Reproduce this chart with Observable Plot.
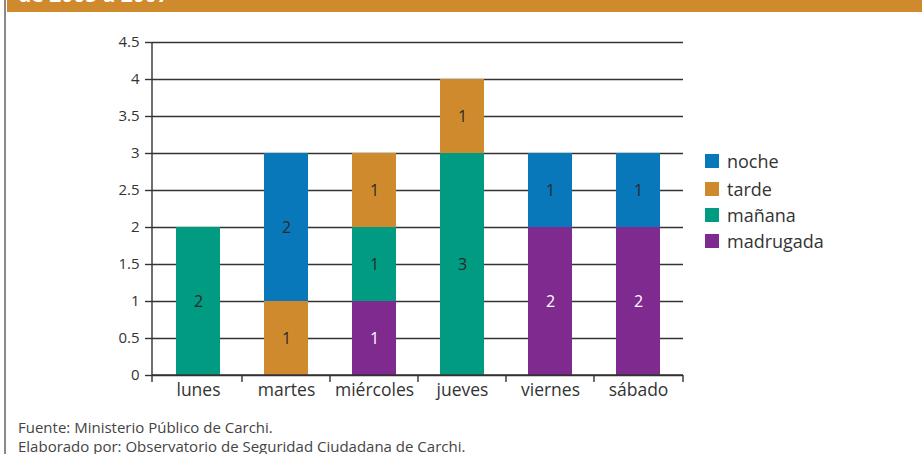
<!DOCTYPE html>
<html>
<head>
<meta charset="utf-8">
<script src="https://cdn.jsdelivr.net/npm/d3@7"></script>
<script src="https://cdn.jsdelivr.net/npm/@observablehq/plot@0.6"></script>
<style>
  html, body { margin: 0; padding: 0; background: #fff; }
  body { width: 922px; height: 454px; overflow: hidden; position: relative; font-family: "Open Sans", "Noto Sans", sans-serif; }
  #border { position: absolute; left: 4px; top: 0; width: 2px; height: 454px; background: #8a8a8a; }
  #band { position: absolute; left: 7px; top: 0; width: 915px; height: 12px; background: #d08a2e; overflow: hidden; }
  #band span { position: absolute; left: 11px; top: -20px; color: #fff; font-weight: bold; font-size: 21px; white-space: nowrap; }
  #chart { position: absolute; left: 0; top: 0; }
  #legend { position: absolute; left: 705px; top: 150px; font-size: 18px; color: #333; }
  #legend .row { position: absolute; left: 0; white-space: nowrap; height: 22px; line-height: 22px; }
  #legend .sw { position: absolute; left: 0; top: 4px; width: 14px; height: 14px; }
  #legend .lb { position: absolute; left: 22px; top: 0; }
  #footer { position: absolute; left: 18px; top: 418px; font-size: 15px; color: #444; line-height: 19px; }
  #footer div { height: 19px; overflow: visible; white-space: nowrap; }
</style>
</head>
<body>
<div id="border"></div>
<div id="band"><span id="title"></span></div>
<div id="chart"></div>
<div id="legend"></div>
<div id="footer"></div>
<script>
// ---- data ----
const title = "de 2005 a 2007";
const days = ["lunes", "martes", "miércoles", "jueves", "viernes", "sábado"];
const periods = ["madrugada", "mañana", "tarde", "noche"]; // bottom -> top
const madrugada = [0, 0, 1, 0, 2, 2];
const manana    = [2, 0, 1, 3, 0, 0];
const tarde     = [0, 1, 1, 1, 0, 0];
const noche     = [0, 2, 0, 0, 1, 1];
const periodColors = ["#7e2a8f", "#009b81", "#d08a2e", "#0878ba"];
const legendOrder = ["noche", "tarde", "mañana", "madrugada"];
const legendTops = [0, 28, 54, 80];
const yTicks = [0, 0.5, 1, 1.5, 2, 2.5, 3, 3.5, 4, 4.5];
const footerLines = [
  "Fuente: Ministerio Público de Carchi.",
  "Elaborado por: Observatorio de Seguridad Ciudadana de Carchi."
];

const series = {madrugada, "mañana": manana, tarde, noche};
const rows = [];
days.forEach((d, i) => periods.forEach(p => {
  const v = series[p][i];
  if (v > 0) rows.push({day: d, period: p, value: v});
}));

document.getElementById("title").textContent = title;

// boundary ticks + axis lines using the plot's scales
function frameLines(index, scales, values, dims) {
  const sx = scales.x, sy = scales.y;
  const g = d3.create("svg:g").attr("stroke", "#333").attr("stroke-width", 1.4);
  const left = dims.marginLeft, right = dims.width - dims.marginRight;
  const base = sy(0), top = sy(4.5);
  g.append("line").attr("x1", left).attr("x2", left).attr("y1", top).attr("y2", base + 7);
  g.append("line").attr("x1", left).attr("x2", right).attr("y1", base).attr("y2", base);
  const bw = sx.bandwidth ? sx.bandwidth() : 0;
  const centers = days.map(d => sx(d) + bw / 2);
  const bounds = [];
  for (let i = 0; i < centers.length - 1; i++) bounds.push((centers[i] + centers[i + 1]) / 2);
  bounds.push(right);
  bounds.forEach(b => g.append("line").attr("x1", b).attr("x2", b).attr("y1", base).attr("y2", base + 7));
  return g.node();
}

const stackOpts = {x: "day", y: "value", z: "period", order: periods};

const chart = Plot.plot({
  width: 922,
  height: 454,
  marginLeft: 152,
  marginRight: 239,
  marginTop: 42,
  marginBottom: 79,
  style: {fontFamily: "'Open Sans', 'Noto Sans', sans-serif", background: "transparent", overflow: "visible"},
  x: {domain: days, paddingInner: 0.5, paddingOuter: 0.26, label: null},
  y: {domain: [0, 4.5], label: null},
  color: {domain: periods, range: periodColors},
  marks: [
    Plot.gridY(yTicks, {stroke: "#333", strokeOpacity: 1, strokeWidth: 1.4}),
    Plot.axisY(yTicks, {tickSize: 7, tickPadding: 6, fontSize: 15, fill: "#333", stroke: "#333", strokeWidth: 1.4, tickFormat: d => String(d), label: null}),
    Plot.axisX({tickSize: 0, tickPadding: 8, fontSize: 17.5, fill: "#333", label: null}),
    Plot.barY(rows, Plot.stackY({...stackOpts, fill: "period"})),
    Plot.text(rows, Plot.stackY({...stackOpts, text: d => d.period !== "madrugada" ? String(d.value) : "", fill: "#2a2a2a", fontSize: 16})),
    Plot.text(rows, Plot.stackY({...stackOpts, text: d => d.period === "madrugada" ? String(d.value) : "", fill: "white", fontSize: 16})),
    frameLines
  ]
});
document.getElementById("chart").appendChild(chart);

// legend
const legend = document.getElementById("legend");
legendOrder.forEach((p, i) => {
  const row = document.createElement("div");
  row.className = "row";
  row.style.top = legendTops[i] + "px";
  const sw = document.createElement("div");
  sw.className = "sw";
  sw.style.background = periodColors[periods.indexOf(p)];
  const lb = document.createElement("div");
  lb.className = "lb";
  lb.textContent = p;
  row.appendChild(sw); row.appendChild(lb);
  legend.appendChild(row);
});

// footer
const footer = document.getElementById("footer");
footerLines.forEach(t => { const d = document.createElement("div"); d.textContent = t; footer.appendChild(d); });
</script>
</body>
</html>
